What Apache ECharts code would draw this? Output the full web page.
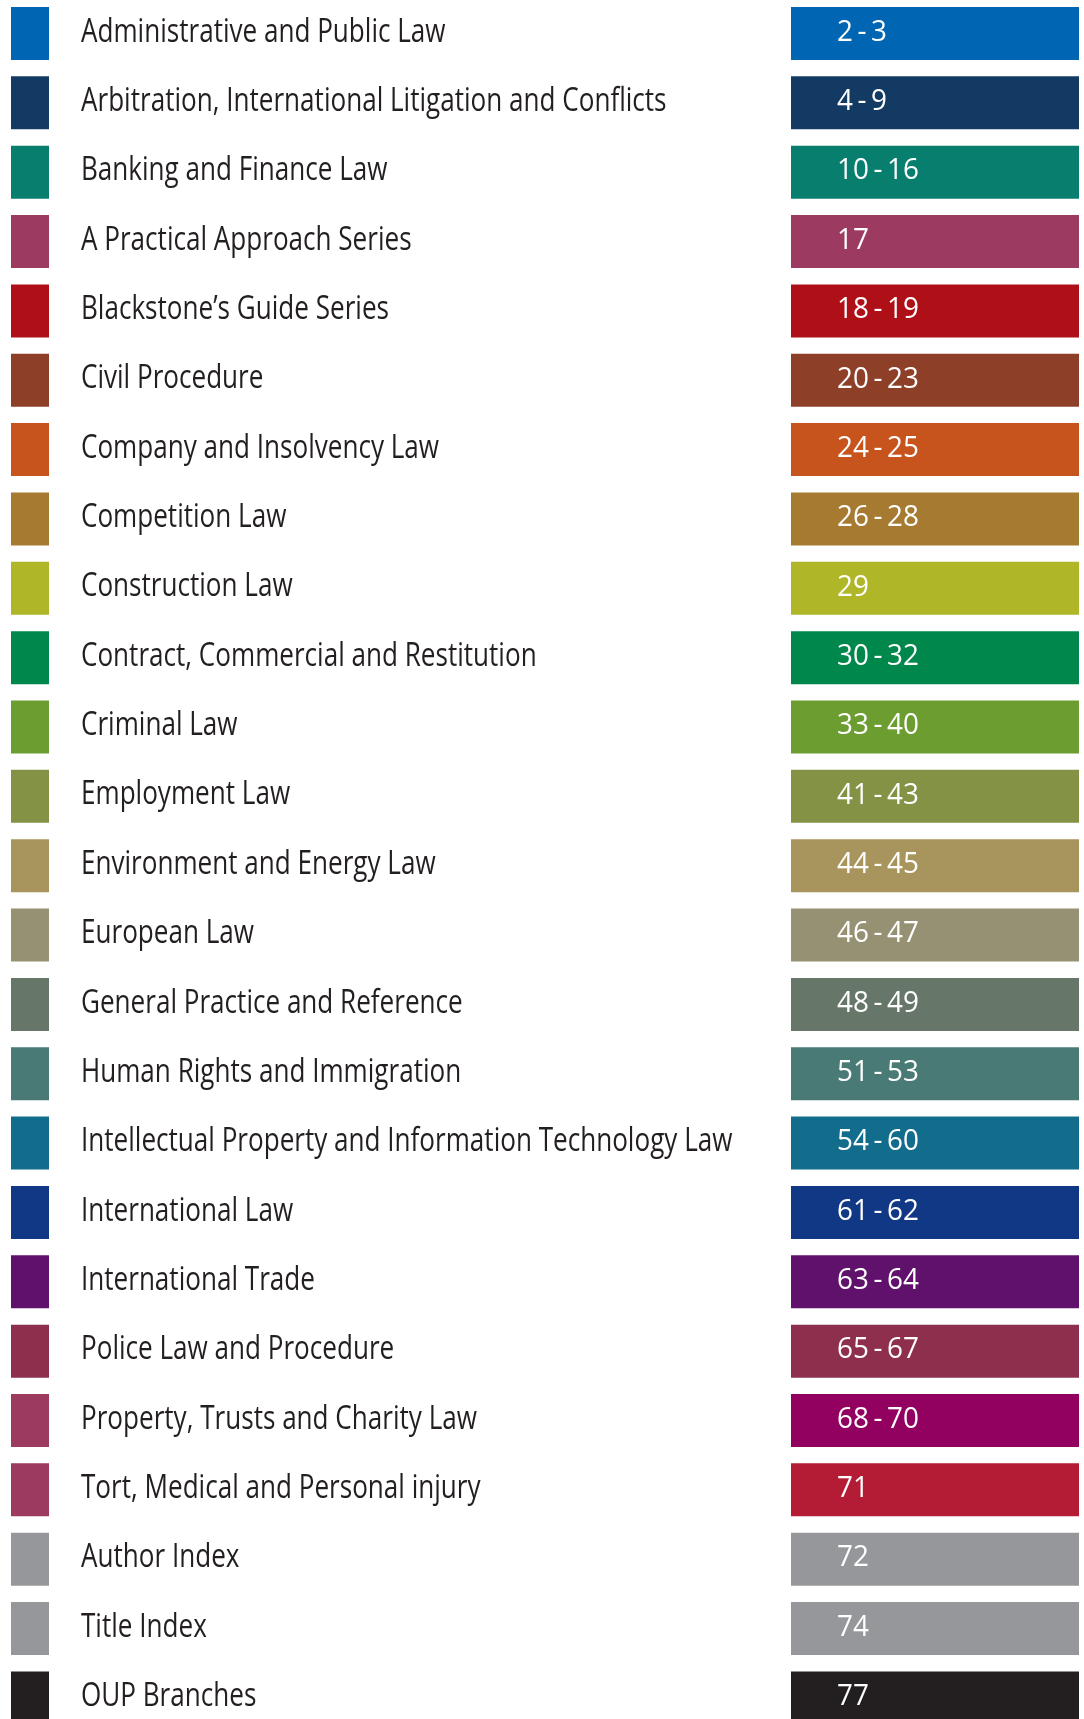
<!DOCTYPE html>
<html>
<head>
<meta charset="utf-8">
<script src="https://cdn.jsdelivr.net/npm/echarts@6/dist/echarts.min.js"></script>
<style>
  html, body { margin: 0; padding: 0; background: #fff; }
  #chart { width: 1084px; height: 1719px; }
</style>
</head>
<body>
<div id="chart"></div>
<script>
const sections = [
  'Administrative and Public Law',
  'Arbitration, International Litigation and Conflicts',
  'Banking and Finance Law',
  'A Practical Approach Series',
  'Blackstone\u2019s Guide Series',
  'Civil Procedure',
  'Company and Insolvency Law',
  'Competition Law',
  'Construction Law',
  'Contract, Commercial and Restitution',
  'Criminal Law',
  'Employment Law',
  'Environment and Energy Law',
  'European Law',
  'General Practice and Reference',
  'Human Rights and Immigration',
  'Intellectual Property and Information Technology Law',
  'International Law',
  'International Trade',
  'Police Law and Procedure',
  'Property, Trusts and Charity Law',
  'Tort, Medical and Personal injury',
  'Author Index',
  'Title Index',
  'OUP Branches'
];

const pages = [
  '2 - 3', '4 - 9', '10 - 16', '17', '18 - 19', '20 - 23', '24 - 25', '26 - 28',
  '29', '30 - 32', '33 - 40', '41 - 43', '44 - 45', '46 - 47', '48 - 49', '51 - 53',
  '54 - 60', '61 - 62', '63 - 64', '65 - 67', '68 - 70', '71', '72', '74', '77'
];

const squareColors = [
  '#0066b3', '#133a62', '#087f6e', '#9d3a62', '#af0f17', '#8e3f28', '#c6541c', '#a67a31',
  '#afb627', '#00874b', '#6c9d31', '#839244', '#a8955e', '#979174', '#667669', '#497a76',
  '#116d8b', '#113884', '#60116c', '#8e2f4e', '#9d3a5f', '#9d3a5f', '#96979a', '#96979a',
  '#231f20'
];

const barColors = [
  '#0066b3', '#133a62', '#087f6e', '#9d3a62', '#af0f17', '#8e3f28', '#c6541c', '#a67a31',
  '#afb627', '#00874b', '#6c9d31', '#839244', '#a8955e', '#979174', '#667669', '#497a76',
  '#116d8b', '#113884', '#60116c', '#8e2f4e', '#920060', '#b31c34', '#96979a', '#96979a',
  '#231f20'
];

const rowPitch = 69.35;
const barRatio = 53 / rowPitch;
const gridTop = -1.175;
const gridHeight = rowPitch * sections.length;

const chart = echarts.init(document.getElementById('chart'), null, { renderer: 'canvas' });

const yCat = (gridIndex) => ({
  type: 'category', gridIndex, data: sections, inverse: true, show: false
});
const xVal = (gridIndex) => ({
  type: 'value', gridIndex, min: 0, max: 1, show: false
});

// one colour block per row, with its text set just to the right / inside
function rowRenderer(colors, texts, textGap, textStyle, scaleX) {
  return (params, api) => {
    const i = api.value(0);
    const p0 = api.coord([0, i]);
    const p1 = api.coord([1, i]);
    const h = api.size([0, 1])[1] * barRatio;
    const tx = textGap >= 0 ? p1[0] + textGap : p0[0] - textGap;
    return {
      type: 'group',
      children: [
        {
          type: 'rect',
          shape: { x: p0[0], y: p0[1] - h / 2, width: p1[0] - p0[0], height: h },
          style: { fill: colors[i] }
        },
        {
          type: 'text',
          x: tx, y: p0[1] - 1, scaleX: scaleX,
          style: Object.assign({ text: texts[i], align: 'left', verticalAlign: 'middle' }, textStyle)
        }
      ]
    };
  };
}

chart.setOption({
  animation: false,
  backgroundColor: '#ffffff',
  grid: [
    { left: 11, width: 38, top: gridTop, height: gridHeight, outerBoundsMode: 'none' },
    { left: 791, width: 288, top: gridTop, height: gridHeight, outerBoundsMode: 'none' }
  ],
  xAxis: [xVal(0), xVal(1)],
  yAxis: [yCat(0), yCat(1)],
  series: [
    {
      type: 'custom', xAxisIndex: 0, yAxisIndex: 0, silent: true, clip: false,
      data: sections.map((s, i) => [i]),
      encode: { y: 0 },
      renderItem: rowRenderer(squareColors, sections, 32, {
        fill: '#231f20', fontSize: 32, fontFamily: '"Open Sans", "Noto Sans", sans-serif'
      }, 0.815)
    },
    {
      type: 'custom', xAxisIndex: 1, yAxisIndex: 1, silent: true, clip: false,
      data: pages.map((s, i) => [i]),
      encode: { y: 0 },
      renderItem: rowRenderer(barColors, pages.map((s) => s.replace(/ /g, '\u2009')), -46, {
        fill: '#ffffff', fontSize: 29, fontFamily: '"Open Sans", "Noto Sans", sans-serif'
      }, 0.96)
    }
  ]
});
</script>
</body>
</html>
